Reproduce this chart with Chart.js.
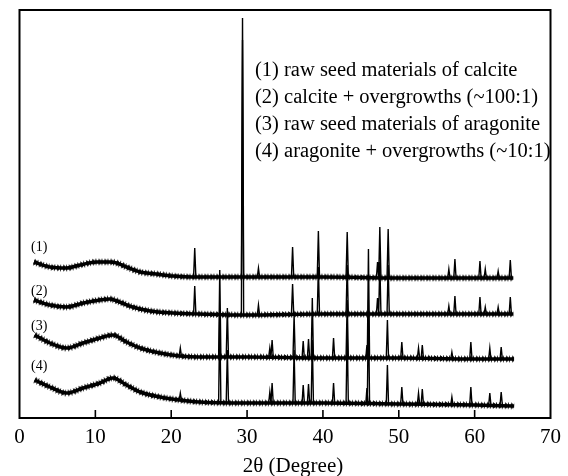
<!DOCTYPE html>
<html>
<head>
<meta charset="utf-8">
<script src="https://cdn.jsdelivr.net/npm/chart.js@4/dist/chart.umd.min.js"></script>
<style>
  html, body { margin: 0; background: #fff; }
  #wrap { width: 568px; height: 476px; }
</style>
</head>
<body>
<div id="wrap"><canvas id="xrd" width="568" height="476"></canvas></div>
<script>
// 2θ in degrees, intensity in arbitrary units (0 = bottom of the frame)
const xTicks = [0, 10, 20, 30, 40, 50, 60, 70];
const traceLabels = ['(1)', '(2)', '(3)', '(4)'];
const legendLines = [
  '(1) raw seed materials of calcite',
  '(2) calcite + overgrowths (~100:1)',
  '(3) raw seed materials of aragonite',
  '(4) aragonite + overgrowths (~10:1)'
];

// background of each pattern: [2θ, intensity]
const base1 = [[1.9,156],[4.0,151],[6.2,150],[8.0,153],[10.2,156],[11.9,156],[12.8,155],[14.1,151],[15.9,146],[18.0,144],[20.2,142],[22.9,141],[30,141],[40,141],[50,140],[60,140],[65.1,140]];
const base2 = [[1.9,118],[4.0,113],[6.2,111],[8.4,115],[10.6,118],[11.9,119],[13.2,116],[14.9,111],[17.2,107],[20.2,105],[23.7,104],[30,103],[40,104],[50,104],[60,104],[65.1,104]];
const base3 = [[2.0,83],[4.0,75],[6.2,70],[8.4,75],[10.6,80],[12.3,83],[14.1,76],[15.9,70],[18.5,65],[21.1,62],[23.7,61],[30,61],[40,60],[50,60],[60,59],[65.2,59]];
const base4 = [[2.0,38],[4.0,31],[6.2,25],[8.4,30],[10.6,35],[12.3,40],[14.1,33],[15.9,26],[18.5,21],[21.1,18],[23.7,16],[30,15],[40,15],[50,14],[60,13],[65.2,12]];

// reflections: [2θ, foot, top]
const peaks1 = [[23.1,141,170],[29.4,141,400],[31.5,141,150],[36.0,141,171],[39.4,141,187],[43.2,141,186],[47.2,140,156],[47.5,140,191],[48.6,140,189],[56.6,140,149],[57.4,140,159],[60.7,140,157],[61.4,140,149],[63.1,140,147],[64.7,140,158]];
const peaks2 = [[23.1,104,132],[29.4,103,378],[31.5,103,113],[36.0,104,134],[39.4,104,151],[43.2,104,153],[47.2,104,120],[47.5,104,156],[48.6,104,153],[56.6,104,112],[57.4,104,122],[60.7,104,121],[61.4,104,111],[63.1,104,111],[64.7,104,121]];
const peaks3 = [[21.2,62,70],[26.4,61,148],[27.4,61,110],[33.0,61,70],[33.3,61,78],[36.2,60,103],[37.4,60,77],[38.1,60,79],[38.6,60,120],[41.4,60,80],[43.2,60,118],[45.8,60,73],[46.0,60,169],[48.5,60,98],[50.4,60,76],[52.6,60,70],[53.1,60,73],[57.0,59,66],[59.5,59,76],[62.0,59,70],[63.5,59,71]];
const peaks4 = [[21.2,18,25],[26.4,16,103],[27.4,16,68],[33.0,15,26],[33.3,15,35],[36.2,15,68],[37.4,15,33],[38.1,15,34],[38.6,15,78],[41.4,15,35],[43.2,15,88],[45.8,14,30],[46.0,14,118],[48.5,14,53],[50.4,14,31],[52.6,14,25],[53.1,14,29],[57.0,13,21],[59.5,13,31],[62.0,13,25],[63.5,13,26]];

const bases = [base1, base2, base3, base4];
const peaks = [peaks1, peaks2, peaks3, peaks4];

const HALF = 0.15; // half width of a reflection at its foot, degrees

function toPoints(list) {
  return list.map(p => ({ x: p[0], y: p[1] }));
}

function peakPoints(list) {
  const pts = [];
  list.forEach(([x, foot, top]) => {
    pts.push({ x: x - HALF, y: foot }, { x: x, y: top }, { x: x + HALF, y: foot }, { x: x + HALF + 0.01, y: null });
  });
  return pts;
}

const datasets = [];
bases.forEach((b, i) => {
  // speckled fringe standing in for the counting noise
  datasets.push({ data: toPoints(b), borderColor: 'rgba(0,0,0,0.55)', borderWidth: 7, borderDash: [1, 2], cubicInterpolationMode: 'monotone', order: 4 });
  datasets.push({ data: toPoints(b), borderColor: 'rgba(0,0,0,0.85)', borderWidth: 5, borderDash: [2, 1, 1, 2], cubicInterpolationMode: 'monotone', order: 3 });
  datasets.push({ data: toPoints(b), borderColor: '#000', borderWidth: 3.5, cubicInterpolationMode: 'monotone', order: 2 });
  datasets.push({ data: peakPoints(peaks[i]), borderColor: '#000', borderWidth: 1.4, tension: 0, spanGaps: false, order: 1 });
});

// frame, inward ticks and all the free text
const framePlugin = {
  id: 'frame',
  afterDatasetsDraw(chart) {
    const { ctx, chartArea: a, scales: { x } } = chart;
    ctx.save();
    ctx.strokeStyle = '#000';
    ctx.lineWidth = 2;
    ctx.strokeRect(a.left, a.top, a.right - a.left, a.bottom - a.top);

    ctx.lineWidth = 1.6;
    xTicks.slice(1, -1).forEach(v => {
      const px = x.getPixelForValue(v);
      ctx.beginPath();
      ctx.moveTo(px, a.bottom);
      ctx.lineTo(px, a.bottom - 8);
      ctx.stroke();
    });

    ctx.fillStyle = '#000';
    ctx.textBaseline = 'middle';
    ctx.textAlign = 'left';
    ctx.font = '14px "Liberation Serif", serif';
    const labelY = [247, 291, 326, 366];
    traceLabels.forEach((t, i) => ctx.fillText(t, 31, labelY[i]));

    ctx.font = '20.5px "Liberation Serif", serif';
    legendLines.forEach((t, i) => ctx.fillText(t, 255, 71 + i * 26.9));

    ctx.textAlign = 'center';
    ctx.font = '21px "Liberation Serif", serif';
    ctx.fillText('2θ (Degree)', 293, 466);
    ctx.restore();
  }
};

new Chart(document.getElementById('xrd'), {
  type: 'line',
  data: { datasets: datasets },
  plugins: [framePlugin],
  options: {
    responsive: false,
    animation: false,
    devicePixelRatio: 1,
    layout: { padding: { left: 19.5, right: 15.5, top: 10, bottom: 0 } },
    elements: { point: { radius: 0 } },
    plugins: { legend: { display: false }, tooltip: { enabled: false } },
    scales: {
      x: {
        type: 'linear',
        min: 0,
        max: 70,
        afterBuildTicks: s => { s.ticks = xTicks.map(v => ({ value: v })); },
        afterFit: s => { s.height = 58; },
        grid: { drawOnChartArea: false, drawTicks: false },
        border: { display: false },
        ticks: { color: '#000', padding: 7, maxRotation: 0, font: { family: 'Liberation Serif', size: 21 } }
      },
      y: { type: 'linear', min: 0, max: 408, display: false }
    }
  }
});
</script>
</body>
</html>
